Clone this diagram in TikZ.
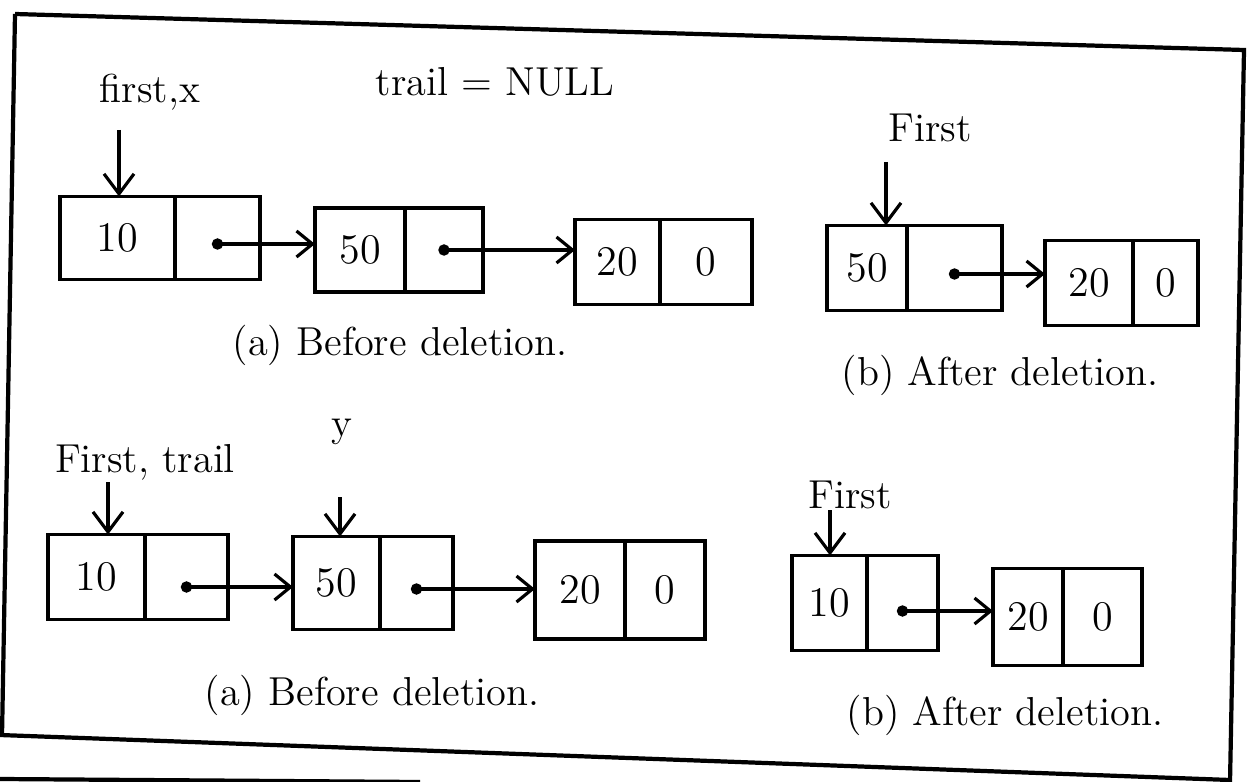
\documentclass[tikz,border=0pt]{standalone}
\usetikzlibrary{arrows.meta,calc}
\begin{document}
\begin{tikzpicture}[x=0.1mm,y=-0.1mm, line width=0.9pt,
  cell/.style={draw, rectangle, inner sep=0pt, outer sep=0pt, anchor=west, font=\large},
  lbl/.style={font=\fontsize{11.5}{13}\selectfont, inner sep=1pt},
  link/.style={{Circle[length=3.2pt]}-{Straight Barb[length=1.6mm,width=2.6mm]}, shorten <=-1.6pt},
  ptr/.style={-{Straight Barb[length=2mm,width=3mm]}},
  frame/.style={line width=1.2pt}]
\useasboundingbox (0,0) rectangle (1252,782);
% frame
\draw[frame] (15,14) -- (1244,50) -- (1230,782);
\draw[frame] (15,14) -- (2,736);
\draw[frame] (0,735) -- (1230,780);
\draw[frame] (0,779) -- (420,782);

% ---- top row, (a) ----
\node[cell, minimum width=11.5mm, minimum height=8.3mm] (d1) at (60,238) {10};
\node[cell, minimum width=8.5mm,  minimum height=8.3mm] (p1) at (d1.east) {};
\node[cell, minimum width=9mm,    minimum height=8.4mm] (d2) at (315,250) {50};
\node[cell, minimum width=7.8mm,  minimum height=8.4mm] (p2) at (d2.east) {};
\node[cell, minimum width=8.5mm,  minimum height=8.5mm] (d3) at (575,262) {20};
\node[cell, minimum width=9.2mm,  minimum height=8.5mm] (p3) at (d3.east) {0};
\draw[link] ([yshift=-0.6mm]p1.center) -- ([yshift=-0.6mm]p1.center -| d2.west);
\draw[link] (p2.center) -- (p2.center -| d3.west);

\node[lbl] (l1) at (150,92) {first,x};
\node[lbl] (l2) at (495,82) {trail = NULL};
\coordinate (c1) at (119,130);
\draw[ptr] (c1) -- (c1 |- d1.north);
\node[lbl] (capa1) at (400,345) {(a) Before deletion.};

% ---- top row, (b) ----
\node[cell, minimum width=8mm,   minimum height=8.5mm] (d4) at (827,268) {50};
\node[cell, minimum width=9.5mm, minimum height=8.5mm] (p4) at (d4.east) {};
\node[cell, minimum width=8.8mm, minimum height=8.5mm] (d5) at (1045,283) {20};
\node[cell, minimum width=6.5mm, minimum height=8.5mm] (p5) at (d5.east) {0};
\draw[link] ([yshift=-0.6mm]p4.center) -- ([yshift=-0.6mm]p4.center -| d5.west);

\node[lbl] (l3) at (930,128) {First};
\coordinate (c3) at (886,162);
\draw[ptr] (c3) -- (c3 |- d4.north);
\node[lbl] (capb1) at (1000,375) {(b) After deletion.};

% ---- bottom row, (a) ----
\node[cell, minimum width=9.7mm, minimum height=8.5mm] (d6) at (48,577) {10};
\node[cell, minimum width=8.3mm, minimum height=8.5mm] (p6) at (d6.east) {};
\node[cell, minimum width=8.7mm, minimum height=9.3mm] (d7) at (293,583) {50};
\node[cell, minimum width=7.3mm, minimum height=9.3mm] (p7) at (d7.east) {};
\node[cell, minimum width=9mm,   minimum height=9.8mm] (d8) at (535,590) {20};
\node[cell, minimum width=8mm,   minimum height=9.8mm] (p8) at (d8.east) {0};
\draw[link] ([yshift=-1mm]p6.center) -- ([yshift=-1mm]p6.center -| d7.west);
\draw[link] ([yshift=-0.6mm]p7.center) -- ([yshift=-0.6mm]p7.center -| d8.west);

\node[lbl] (l4) at (145,462) {First, trail};
\coordinate (c4) at (108,482);
\draw[ptr] (c4) -- (c4 |- d6.north);
\node[lbl] (l5) at (342,432) {y};
\coordinate (c5) at (340,497);
\draw[ptr] (c5) -- (c5 |- d7.north);
\node[lbl] (capa2) at (372,695) {(a) Before deletion.};

% ---- bottom row, (b) ----
\node[cell, minimum width=7.5mm, minimum height=9.5mm] (d9) at (792,603) {10};
\node[cell, minimum width=7.1mm, minimum height=9.5mm] (p9) at (d9.east) {};
\node[cell, minimum width=7mm,   minimum height=9.7mm] (d10) at (993,617) {20};
\node[cell, minimum width=7.9mm, minimum height=9.7mm] (p10) at (d10.east) {0};
\draw[link] ([yshift=-0.8mm]p9.center) -- ([yshift=-0.8mm]p9.center -| d10.west);

\node[lbl] (l6) at (850,495) {First};
\coordinate (c6) at (830,510);
\draw[ptr] (c6) -- (c6 |- d9.north);
\node[lbl] (capb2) at (1005,715) {(b) After deletion.};
\end{tikzpicture}
\end{document}
